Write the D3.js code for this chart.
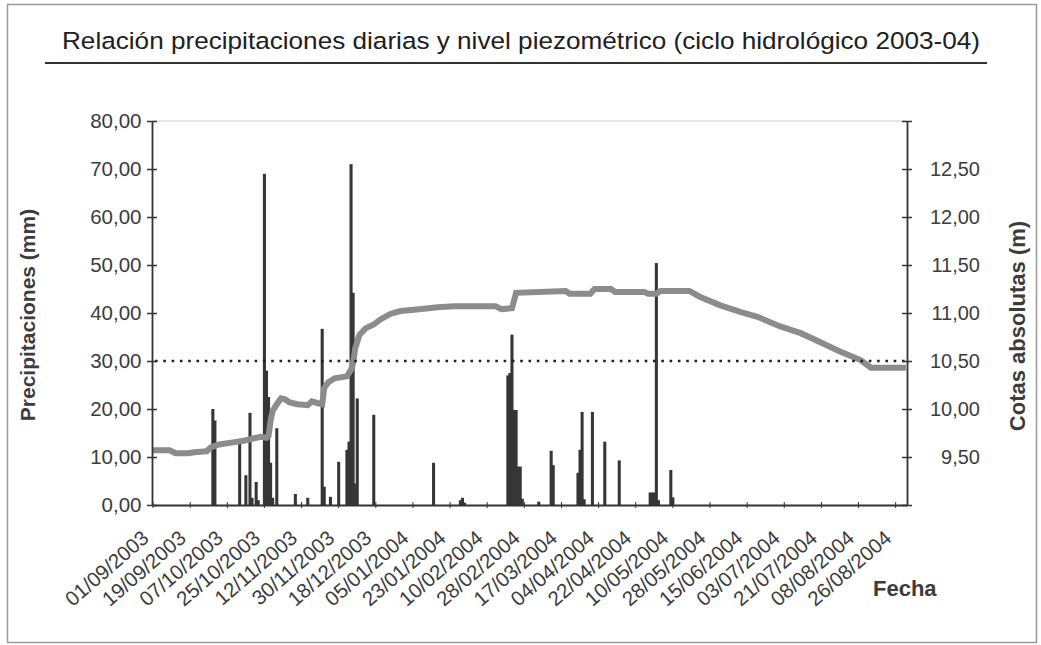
<!DOCTYPE html>
<html lang="es">
  <head>
    <meta charset="UTF-8" />
    <title>Precipitaciones y nivel piezométrico 2003-04</title>
    <script src="https://d3js.org/d3.v7.min.js"></script>
    <style>
      body { margin: 0; background: #fff; }
      svg text { font-family: "Liberation Sans", Arial, sans-serif; fill: #3c3c3c; }
    </style>
  </head>
  <body>
    <div id="chart"></div>
    <script>
      // días con lluvia (mm), el resto es 0
      const rainDates = [
        "30/09/2003", "01/10/2003", "13/10/2003", "16/10/2003", "18/10/2003", "19/10/2003",
        "21/10/2003", "22/10/2003", "25/10/2003", "26/10/2003", "27/10/2003", "28/10/2003",
        "29/10/2003", "31/10/2003", "09/11/2003", "15/11/2003", "22/11/2003", "23/11/2003",
        "26/11/2003", "30/11/2003", "04/12/2003", "05/12/2003", "06/12/2003", "07/12/2003",
        "08/12/2003", "09/12/2003", "17/12/2003", "15/01/2004", "28/01/2004", "29/01/2004",
        "30/01/2004", "20/02/2004", "21/02/2004", "22/02/2004", "23/02/2004", "24/02/2004",
        "25/02/2004", "26/02/2004", "27/02/2004", "06/03/2004", "12/03/2004", "13/03/2004",
        "25/03/2004", "26/03/2004", "27/03/2004", "28/03/2004", "01/04/2004", "07/04/2004",
        "14/04/2004", "29/04/2004", "30/04/2004", "01/05/2004", "02/05/2004", "03/05/2004",
        "09/05/2004", "10/05/2004"
      ];
      const rainMm = [
        20.0, 17.6, 13.0, 6.2, 19.2, 1.5,
        4.8, 1.0, 69.0, 28.0, 22.5, 8.8,
        1.5, 16.0, 2.3, 1.5, 36.7, 3.8,
        1.7, 9.0, 11.5, 13.2, 71.0, 44.2,
        4.5, 22.2, 18.8, 8.8, 1.0, 1.5,
        0.5, 27.0, 27.5, 35.5, 19.8, 19.8,
        8.0, 8.0, 1.3, 0.7, 11.3, 8.3,
        6.7, 11.5, 19.4, 1.2, 19.4, 13.2,
        9.3, 2.6, 2.6, 2.6, 50.4, 1.0,
        7.3, 1.6
      ];

      // lecturas del nivel piezométrico (m)
      const levelDates = [
        "01/09/2003", "09/09/2003", "12/09/2003", "18/09/2003", "21/09/2003", "27/09/2003",
        "29/09/2003", "03/10/2003", "09/10/2003", "15/10/2003", "19/10/2003", "23/10/2003",
        "26/10/2003", "27/10/2003", "28/10/2003", "29/10/2003", "31/10/2003", "02/11/2003",
        "04/11/2003", "06/11/2003", "10/11/2003", "15/11/2003", "17/11/2003", "20/11/2003",
        "22/11/2003", "23/11/2003", "25/11/2003", "28/11/2003", "04/12/2003", "06/12/2003",
        "07/12/2003", "08/12/2003", "10/12/2003", "13/12/2003", "17/12/2003", "20/12/2003",
        "25/12/2003", "30/12/2003", "08/01/2004", "17/01/2004", "25/01/2004", "14/02/2004",
        "17/02/2004", "22/02/2004", "24/02/2004", "19/03/2004", "21/03/2004", "31/03/2004",
        "02/04/2004", "10/04/2004", "12/04/2004", "26/04/2004", "28/04/2004", "02/05/2004",
        "04/05/2004", "18/05/2004", "23/05/2004", "02/06/2004", "12/06/2004", "20/06/2004",
        "01/07/2004", "11/07/2004", "20/07/2004", "30/07/2004", "09/08/2004", "14/08/2004",
        "31/08/2004"
      ];
      const levelM = [
        9.57, 9.57, 9.54, 9.54, 9.55, 9.56,
        9.60, 9.63, 9.65, 9.67, 9.69, 9.71,
        9.70, 9.72, 9.88, 9.98, 10.05, 10.11,
        10.10, 10.07, 10.05, 10.04, 10.08, 10.06,
        10.05, 10.22, 10.28, 10.32, 10.34, 10.41,
        10.48, 10.63, 10.77, 10.84, 10.88, 10.93,
        10.99, 11.02, 11.04, 11.06, 11.07, 11.07,
        11.04, 11.05, 11.21, 11.23, 11.20, 11.20,
        11.25, 11.25, 11.22, 11.22, 11.20, 11.20,
        11.23, 11.23, 11.17, 11.08, 11.01, 10.96,
        10.86, 10.79, 10.70, 10.60, 10.51, 10.43,
        10.43
      ];

      const refLevel = 10.5; // línea de puntos
      const leftTicks = [0, 10, 20, 30, 40, 50, 60, 70, 80];
      const rightTicks = [9, 9.5, 10, 10.5, 11, 11.5, 12, 12.5, 13];
      const rightLabels = [9.5, 10, 10.5, 11, 11.5, 12, 12.5];
      const firstDay = "01/09/2003";
      const lastDay = "31/08/2004";
      const labelEvery = 18;

      const parse = d3.timeParse("%d/%m/%Y");
      const fmt = d3.timeFormat("%d/%m/%Y");
      const days = d3.timeDay
        .range(parse(firstDay), d3.timeDay.offset(parse(lastDay), 1))
        .map(fmt);

      const es = d3.formatLocale({ decimal: ",", thousands: ".", grouping: [3], currency: ["", " €"] });
      const f2 = es.format(".2f");

      const W = 1041, H = 645;
      const plot = { left: 152, right: 907, top: 121, bottom: 505 };

      const svg = d3.select("#chart").append("svg")
        .attr("width", W)
        .attr("height", H);

      // marco
      svg.append("rect")
        .attr("x", 7.5).attr("y", 4.5)
        .attr("width", 1029).attr("height", 638)
        .attr("fill", "none")
        .attr("stroke", "#9a9a9a")
        .attr("stroke-width", 1.5);

      // título
      svg.append("text")
        .attr("x", 521).attr("y", 49)
        .attr("text-anchor", "middle")
        .attr("font-size", "24.5px")
        .attr("textLength", 918)
        .attr("lengthAdjust", "spacingAndGlyphs")
        .style("fill", "#202020")
        .text("Relación precipitaciones diarias y nivel piezométrico (ciclo hidrológico 2003-04)");
      svg.append("line")
        .attr("x1", 45).attr("x2", 987)
        .attr("y1", 63).attr("y2", 63)
        .attr("stroke", "#333").attr("stroke-width", 2);

      const x = d3.scaleBand().domain(days).range([plot.left, plot.right]).padding(0);
      const yL = d3.scaleLinear().domain([0, 80]).range([plot.bottom, plot.top]);
      const yR = d3.scaleLinear().domain([9, 13]).range([plot.bottom, plot.top]);

      // borde superior del área de trazado
      svg.append("line")
        .attr("x1", plot.left).attr("x2", plot.right)
        .attr("y1", plot.top).attr("y2", plot.top)
        .attr("stroke", "#cfcfcf");

      // barras de lluvia
      const rain = rainDates.map((d, i) => ({ date: d, mm: rainMm[i] }));
      svg.append("g").selectAll("rect")
        .data(rain)
        .enter()
        .append("rect")
        .attr("x", (d) => x(d.date) - 0.5)
        .attr("width", x.bandwidth() + 1)
        .attr("y", (d) => yL(d.mm))
        .attr("height", (d) => yL(0) - yL(d.mm))
        .attr("fill", "#363636");

      // nivel piezométrico
      const level = levelDates.map((d, i) => ({ date: d, m: levelM[i] }));
      const line = d3.line()
        .x((d) => x(d.date) + x.bandwidth() / 2)
        .y((d) => yR(d.m));
      svg.append("path")
        .datum(level)
        .attr("d", line)
        .attr("fill", "none")
        .attr("stroke", "#8c8c8c")
        .attr("stroke-width", 6);

      // cota de referencia
      svg.append("line")
        .attr("x1", plot.left + 3).attr("x2", plot.right)
        .attr("y1", yR(refLevel)).attr("y2", yR(refLevel))
        .attr("stroke", "#222")
        .attr("stroke-width", 2.6)
        .attr("stroke-dasharray", "2.6,5.7");

      // eje izquierdo
      const axL = svg.append("g")
        .attr("transform", `translate(${plot.left},0)`)
        .call(d3.axisLeft(yL).tickValues(leftTicks).tickFormat(f2)
          .tickSizeInner(5).tickSizeOuter(0).tickPadding(5.5));
      axL.selectAll(".tick line").attr("x1", 5).attr("stroke", "#333").attr("stroke-width", 1.5);
      axL.select(".domain").attr("stroke", "#333").attr("stroke-width", 1.8);
      axL.selectAll("text").attr("font-size", "20.5px").attr("fill", "#444");

      // eje derecho
      const axR = svg.append("g")
        .attr("transform", `translate(${plot.right},0)`)
        .call(d3.axisRight(yR).tickValues(rightTicks)
          .tickFormat((d) => (rightLabels.includes(d) ? f2(d) : ""))
          .tickSizeInner(5).tickSizeOuter(0));
      axR.selectAll(".tick line").attr("x1", -5).attr("stroke", "#333").attr("stroke-width", 1.5);
      axR.select(".domain").attr("stroke", "#333").attr("stroke-width", 1.8);
      axR.selectAll("text")
        .attr("text-anchor", "end")
        .attr("x", 73)
        .attr("font-size", "20px")
        .attr("fill", "#444");

      // eje de fechas
      const axB = svg.append("g")
        .attr("transform", `translate(0,${plot.bottom})`)
        .call(d3.axisBottom(x)
          .tickValues(days.filter((d, i) => i % labelEvery === 0))
          .tickSizeInner(3).tickSizeOuter(0));
      axB.selectAll(".tick line").attr("y1", -3).attr("stroke", "#333");
      axB.select(".domain").attr("stroke", "#333").attr("stroke-width", 1.8);
      axB.selectAll("text")
        .attr("x", 0).attr("y", 0).attr("dy", 0)
        .attr("text-anchor", "end")
        .attr("transform", "translate(-2.9,35) rotate(-41)")
        .attr("font-size", "20.5px")
        .attr("fill", "#444");

      // títulos de ejes
      svg.append("text")
        .attr("transform", "translate(35,315) rotate(-90)")
        .attr("text-anchor", "middle")
        .attr("font-size", "21px")
        .attr("font-weight", "bold")
        .text("Precipitaciones (mm)");
      svg.append("text")
        .attr("transform", "translate(1025,326) rotate(-90)")
        .attr("text-anchor", "middle")
        .attr("font-size", "22px")
        .attr("font-weight", "bold")
        .text("Cotas absolutas (m)");
      svg.append("text")
        .attr("x", 873).attr("y", 596)
        .attr("font-size", "22px")
        .attr("font-weight", "bold")
        .text("Fecha");
    </script>
  </body>
</html>
